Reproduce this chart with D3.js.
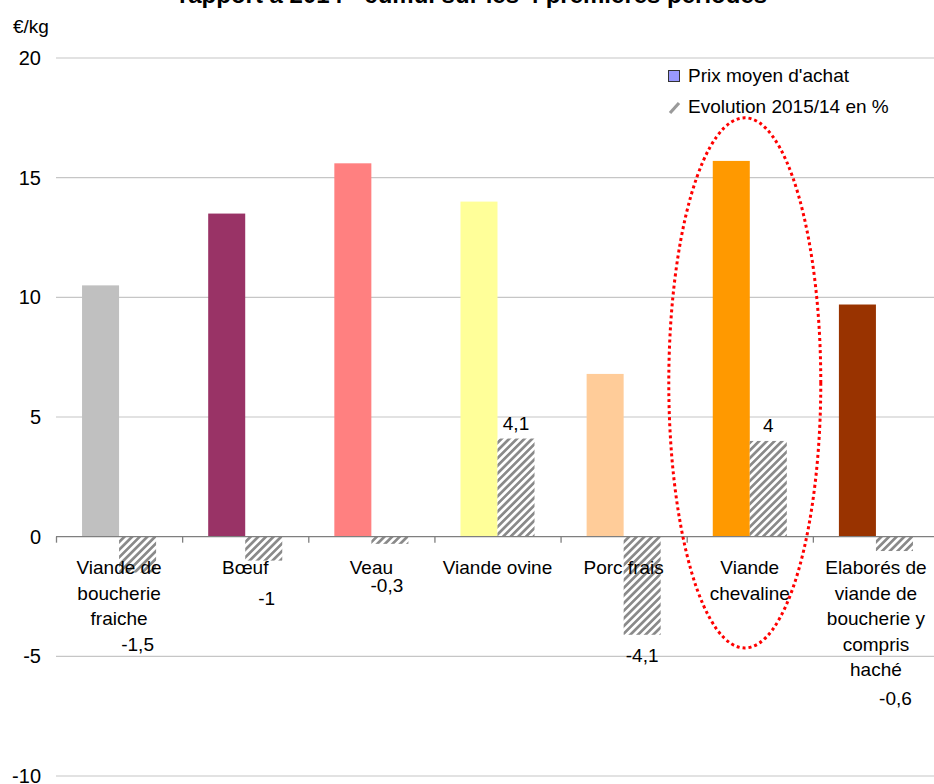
<!DOCTYPE html>
<html>
<head>
<meta charset="utf-8">
<script src="https://cdn.jsdelivr.net/npm/d3@7"></script>
<style>
  body { margin: 0; background: #fff; }
  svg text { font-family: "Liberation Sans", Arial, sans-serif; fill: #000; }
</style>
</head>
<body>
<svg class="chart" width="934" height="784"></svg>
<script>
// data
var categories = ["Viande de boucherie fraiche", "Bœuf", "Veau", "Viande ovine",
  "Porc frais", "Viande chevaline", "Elaborés de viande de boucherie y compris haché"];
var categoryLines = [["Viande de", "boucherie", "fraiche"], ["Bœuf"], ["Veau"], ["Viande ovine"],
  ["Porc frais"], ["Viande", "chevaline"], ["Elaborés de", "viande de", "boucherie y", "compris", "haché"]];
var prix = [10.5, 13.5, 15.6, 14.0, 6.8, 15.7, 9.7];
var evolution = [-1.5, -1, -0.3, 4.1, -4.1, 4, -0.6];
var barColors = ["#C0C0C0", "#993366", "#FF8080", "#FFFF99", "#FFCC99", "#FF9900", "#993300"];
var yTicks = [-10, -5, 0, 5, 10, 15, 20];
var seriesNames = ["Prix moyen d'achat", "Evolution 2015/14 en %"];
var title = "rapport à 2014 - cumul sur les 4 premières périodes";
// the dotted ring around "Viande chevaline", in axis units
var ringTop = 17.5, ringBottom = -4.65;

// label nudges (px) for the evolution values, moved by hand in the original
var labelDx = [0, 3, -3, 0, 0, 0, 1];
var labelDy = [71, 37, 41, -16, 20, -16, 147];

var svg = d3.select(".chart");

var x0 = d3.scaleBand().domain(categories).range([56, 939]);
var x1 = d3.scaleBand().domain(["prix", "evo"])
    .range([x0.bandwidth() * 0.2065, x0.bandwidth() * 0.7935]);
var y = d3.scaleLinear().domain([-10, 20]).range([776, 58]);

var defs = svg.append("defs");
var hatch = defs.append("pattern")
    .attr("id", "hatch")
    .attr("patternUnits", "userSpaceOnUse")
    .attr("width", 5.4)
    .attr("height", 5.4)
    .attr("patternTransform", "rotate(45)");
hatch.append("rect").attr("width", 5.4).attr("height", 5.4).attr("fill", "#fff");
hatch.append("rect").attr("width", 2.7).attr("height", 5.4).attr("fill", "#8a8a8a");

// title, mostly cut off at the top
svg.append("text")
    .attr("x", 473)
    .attr("y", 3)
    .attr("text-anchor", "middle")
    .style("font-weight", "bold")
    .style("font-size", "24px")
    .text(title);

svg.append("text")
    .attr("x", 13)
    .attr("y", 33)
    .style("font-family", "'Liberation Sans Narrow', 'Liberation Sans', sans-serif")
    .style("font-size", "19px")
    .text("€/kg");

// gridlines
svg.append("g")
    .selectAll("line")
    .data(yTicks.filter(function (d) { return d !== 0; }))
    .enter().append("line")
    .attr("x1", 56).attr("x2", 934)
    .attr("y1", function (d) { return y(d); })
    .attr("y2", function (d) { return y(d); })
    .attr("stroke", "#c6c6c6")
    .attr("stroke-width", 1.2);

svg.append("g")
    .selectAll("text")
    .data(yTicks)
    .enter().append("text")
    .attr("x", 41)
    .attr("y", function (d) { return y(d) + 7; })
    .attr("text-anchor", "end")
    .style("font-size", "20px")
    .text(function (d) { return d; });

var groups = svg.append("g")
    .selectAll("g")
    .data(categories)
    .enter().append("g")
    .attr("transform", function (d) { return "translate(" + x0(d) + ",0)"; });

groups.append("rect")
    .attr("x", x1("prix"))
    .attr("width", x1.bandwidth())
    .attr("y", function (d, i) { return y(prix[i]); })
    .attr("height", function (d, i) { return y(0) - y(prix[i]); })
    .attr("fill", function (d, i) { return barColors[i]; });

groups.append("rect")
    .attr("x", x1("evo"))
    .attr("width", x1.bandwidth())
    .attr("y", function (d, i) { return y(Math.max(0, evolution[i])); })
    .attr("height", function (d, i) { return Math.abs(y(evolution[i]) - y(0)); })
    .attr("fill", "url(#hatch)");

// zero axis with ticks between categories
var axisG = svg.append("g");
axisG.append("line")
    .attr("x1", 56).attr("x2", 934)
    .attr("y1", y(0)).attr("y2", y(0))
    .attr("stroke", "#7f7f7f")
    .attr("stroke-width", 1.3);
axisG.selectAll(".tick")
    .data(categories)
    .enter().append("line")
    .attr("x1", function (d) { return x0(d) + 0.5; })
    .attr("x2", function (d) { return x0(d) + 0.5; })
    .attr("y1", y(0))
    .attr("y2", y(0) + 6)
    .attr("stroke", "#7f7f7f")
    .attr("stroke-width", 1.3);

// category labels
groups.append("text")
    .attr("text-anchor", "middle")
    .style("font-size", "19px")
    .each(function (d, i) {
      var t = d3.select(this);
      categoryLines[i].forEach(function (line, k) {
        t.append("tspan")
          .attr("x", x0.bandwidth() / 2)
          .attr("y", 574 + k * 25.5)
          .text(line);
      });
    });

// evolution value labels
groups.append("text")
    .attr("x", function (d, i) { return x1("evo") + x1.bandwidth() / 2 + labelDx[i]; })
    .attr("y", function (d, i) { return y(evolution[i]) + labelDy[i] + 7; })
    .attr("text-anchor", "middle")
    .style("font-size", "19px")
    .text(function (d, i) { return String(evolution[i]).replace(".", ","); });

// legend
var legend = svg.append("g").attr("transform", "translate(668,70)");
legend.append("rect")
    .attr("x", 0.5).attr("y", 0.5)
    .attr("width", 11).attr("height", 11)
    .attr("fill", "#9999FF")
    .attr("stroke", "#333")
    .attr("stroke-width", 1);
legend.append("line")
    .attr("x1", 2).attr("y1", 43)
    .attr("x2", 11).attr("y2", 33)
    .attr("stroke", "#9a9a9a")
    .attr("stroke-width", 3.2);
legend.selectAll(".lab")
    .data(seriesNames)
    .enter().append("text")
    .attr("x", 20)
    .attr("y", function (d, i) { return 11.5 + i * 31.6; })
    .style("font-size", "19px")
    .text(function (d) { return d; });

// red dotted ring around horse meat
var ringCat = "Viande chevaline";
svg.append("ellipse")
    .attr("cx", x0(ringCat) + x0.bandwidth() / 2 - 5)
    .attr("cy", (y(ringTop) + y(ringBottom)) / 2)
    .attr("rx", 76)
    .attr("ry", (y(ringBottom) - y(ringTop)) / 2)
    .attr("fill", "none")
    .attr("stroke", "#ff0000")
    .attr("stroke-width", 3)
    .attr("stroke-dasharray", "3,3");
</script>
</body>
</html>
